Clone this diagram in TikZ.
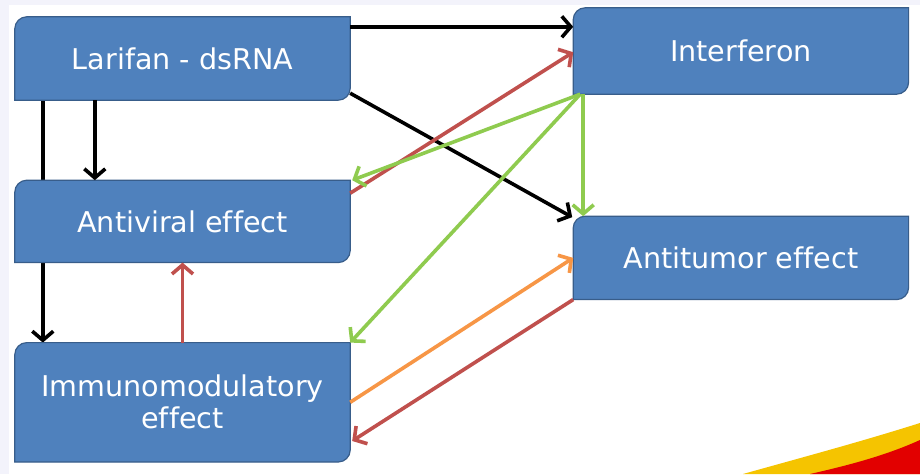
\documentclass[tikz,border=0pt]{standalone}
\usepackage{fontspec}
\setmainfont{DejaVu Sans}[Ligatures=CommonOff]
\usepackage{tikz}
\usetikzlibrary{arrows.meta, positioning, calc, backgrounds}
\pgfdeclarelayer{slide}
\pgfsetlayers{slide,background,main}
\definecolor{boxblue}{RGB}{79,129,189}
\definecolor{boxline}{RGB}{56,93,138}
\definecolor{arrred}{RGB}{192,80,77}
\definecolor{arrgreen}{RGB}{143,203,79}
\definecolor{arrorange}{RGB}{247,150,70}
\definecolor{pagebg}{RGB}{243,243,251}
\definecolor{swyellow}{RGB}{245,196,0}
\definecolor{swred}{RGB}{226,0,0}
\tikzset{
    % Effect boxes
    effectbox/.style={minimum width=335pt, inner sep=0pt, align=center, text=white,
        font=\fontsize{28.6}{32}\selectfont},
    % Connectors
    link/.style={line width=3.6pt, -{Straight Barb[length=9pt, width=21pt]}},
    blacklink/.style={link, black},
    redlink/.style={link, arrred},
    greenlink/.style={link, arrgreen},
    orangelink/.style={link, arrorange}
}

\begin{document}
\begin{tikzpicture}[x=1pt, y=1pt]
        \useasboundingbox (0,0) rectangle (920,474);
        % Slide background
        \begin{pgfonlayer}{slide}
            \fill[pagebg] (0,0) rectangle (920,474);
            \fill[white] (9,0) rectangle (920,469);
            \fill[swyellow] (743,0) .. controls (800,16) and (860,32) .. (920,51) -- (920,0) -- cycle;
            \fill[swred] (810,0) .. controls (850,9) and (887,19) .. (920,34) -- (920,0) -- cycle;
        \end{pgfonlayer}

        % Effect boxes
        \node[effectbox, minimum height=83pt] (lar) at (182.5,415.5) {Larifan - dsRNA};
        \node[effectbox, minimum height=82pt, below=80pt of lar] (avr) {Antiviral effect};
        \node[effectbox, minimum height=119pt, below=80pt of avr] (imm) {Immunomodulatory\\effect};
        \node[effectbox, minimum height=86pt, right=223pt of lar, yshift=7.5pt] (ifn) {Interferon};
        \node[effectbox, minimum height=83pt, below=122pt of ifn] (atm) {Antitumor effect};

        % Box shapes (rounded top left and bottom right), behind the text
        \begin{scope}[on background layer]
            % this one runs behind the antiviral box
            \draw[blacklink] ([xshift=28pt]lar.south west) -- ([xshift=28pt]imm.north west);
            \foreach \b in {lar, avr, imm, ifn, atm} {
                \filldraw[fill=boxblue, draw=boxline, line width=1.2pt]
                    (\b.south west) -- ($(\b.north west)+(0,-12)$)
                    arc[start angle=180, end angle=90, radius=12pt]
                    -- (\b.north east) -- ($(\b.south east)+(0,12)$)
                    arc[start angle=0, end angle=-90, radius=12pt] -- cycle;
            }
        \end{scope}

        % Larifan connections
        \draw[blacklink] ([yshift=-10pt]lar.north east) -- ([yshift=-19pt]ifn.north west);
        \draw[blacklink] ([yshift=7pt]lar.south east) -- ([xshift=-1pt, yshift=-1pt]atm.north west);
        \draw[blacklink] ([xshift=80pt]lar.south west) -- ([xshift=80pt]avr.north west);

        % Interferon connections
        \draw[redlink] ([yshift=-13pt]avr.north east) -- ([yshift=42pt]ifn.south west);
        \draw[greenlink] ([xshift=7pt]ifn.south west) -- ([xshift=2pt]avr.north east);
        \draw[greenlink] ([xshift=7pt]ifn.south west) -- (imm.north east);
        \draw[greenlink] ([xshift=10pt]ifn.south west) -- ([xshift=10pt]atm.north west);

        % Immunomodulatory connections
        \draw[redlink] (imm.north) -- (avr.south);
        \draw[orangelink] (imm.east) -- (atm.west);
        \draw[redlink] (atm.south west) -- ([xshift=2pt, yshift=21pt]imm.south east);
\end{tikzpicture}
\end{document}
